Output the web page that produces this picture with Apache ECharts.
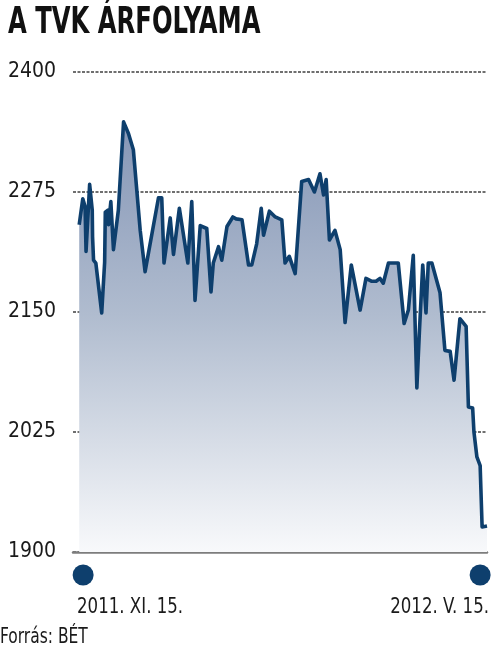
<!DOCTYPE html>
<html>
<head>
<meta charset="utf-8">
<script src="https://cdn.jsdelivr.net/npm/echarts@6/dist/echarts.min.js"></script>
<style>
html,body{margin:0;padding:0;background:#fff;}
#c{width:491px;height:652px;}
</style>
</head>
<body>
<div id="c"></div>
<script>
// Trading-day index (0 = 2011. XI. 15.)
const days = [0,1.1,1.8,2.1,3.2,4.0,4.1,4.4,5.1,6.9,7.8,8.0,8.8,9.0,9.7,10.5,12.0,13.6,15.1,16.6,18.7,20.2,24.3,25.3,26.0,27.9,28.9,30.7,33.3,34.5,35.5,37.1,39.1,40.4,41.1,42.7,43.7,45.3,47.1,48.1,49.9,51.9,52.9,54.4,55.8,56.5,58.3,60.1,62.1,63.1,64.4,66.2,68.2,70.3,72.1,73.8,74.9,75.7,76.7,78.4,80.0,81.5,83.4,86.1,87.9,89.7,91.0,92.2,93.2,94.8,97.8,99.6,100.9,102.4,103.5,104.3,105.3,106.3,107.0,108.1,110.6,112.1,113.7,114.9,116.7,118.6,119.3,120.6,121.0,121.9,122.9,123.5,125.0];
// TVK share price (HUF)
const prices = [2241,2268,2260,2213,2283,2256,2228,2204,2201,2149,2202,2254,2256,2241,2265,2215,2256,2348,2336,2319,2235,2192,2269,2269,2201,2248,2210,2258,2201,2265,2162,2240,2237,2171,2201,2218,2204,2239,2249,2247,2246,2199,2199,2221,2258,2230,2255,2249,2246,2201,2208,2190,2286,2288,2275,2294,2272,2288,2225,2235,2215,2139,2199,2152,2185,2182,2182,2185,2180,2201,2201,2138,2152,2209,2071,2131,2199,2149,2201,2201,2170,2110,2109,2079,2143,2135,2051,2050,2025,1999,1990,1926,1927];
const yTicks = [1900,2025,2150,2275,2400];
const dateLabels = ['2011. XI. 15.','2012. V. 15.'];
const dateMarkDays = [1.2, 122.9];
const title = 'A TVK ÁRFOLYAMA';
const source = 'Forrás: BÉT';

const FONT = '"DejaVu Sans Condensed","Liberation Sans Narrow","Liberation Sans",sans-serif';
const NAVY = '#0e3f6d';

const chart = echarts.init(document.getElementById('c'), null, {renderer:'canvas'});
const option = {
  animation:false,
  backgroundColor:'#fff',
  grid:{left:73,right:4,top:72,bottom:100,containLabel:false},
  xAxis:{
    type:'value', min:-1.9, max:125,
    axisLine:{show:true,lineStyle:{color:'#7d7d7d',width:2.5}},
    axisTick:{show:false}, axisLabel:{show:false}, splitLine:{show:false}
  },
  yAxis:{
    type:'value', min:yTicks[0], max:yTicks[yTicks.length-1], interval:125,
    axisLine:{show:false}, axisTick:{show:false},
    axisLabel:{show:true,align:'left',margin:65,fontFamily:FONT,fontSize:21,color:'#1a1a1a',verticalAlign:'middle',
      formatter:v=>String(v)},
    splitLine:{show:true,lineStyle:{color:'#6f6f6f',width:2.2,type:[3,1.5]}}
  },
  series:[{
    type:'line',
    data:days.map((d,i)=>[d,prices[i]]),
    showSymbol:false,
    lineStyle:{color:NAVY,width:3.6,join:'round'},
    areaStyle:{
      origin:'start',
      opacity:1,
      color:new echarts.graphic.LinearGradient(0,0,0,1,[
        {offset:0,color:'#8596b6'},
        {offset:0.45,color:'#b0bccf'},
        {offset:1,color:'#f8f9fb'}
      ])
    },
    z:3
  }],
  graphic:[
    {type:'text',x:8,y:4,scaleX:0.71,style:{text:title,font:'bold 38px '+FONT,fill:'#111'}},
    {type:'text',x:0,y:627,scaleX:0.82,style:{text:source,font:'21px '+FONT,fill:'#1a1a1a'}}
  ]
};
chart.setOption(option);

const g = [];
dateMarkDays.forEach((d,i)=>{
  const px = chart.convertToPixel({xAxisIndex:0}, d);
  g.push({type:'circle',shape:{cx:px,cy:575,r:10.5},style:{fill:NAVY},z:10});
});
g.push({type:'text',x:77,y:597,scaleX:0.88,style:{text:dateLabels[0],font:'21px '+FONT,fill:'#1a1a1a'}});
g.push({type:'text',x:489,y:597,scaleX:0.88,style:{text:dateLabels[1],font:'21px '+FONT,fill:'#1a1a1a',align:'right'}});
chart.setOption({graphic:option.graphic.concat(g)});
</script>
</body>
</html>
